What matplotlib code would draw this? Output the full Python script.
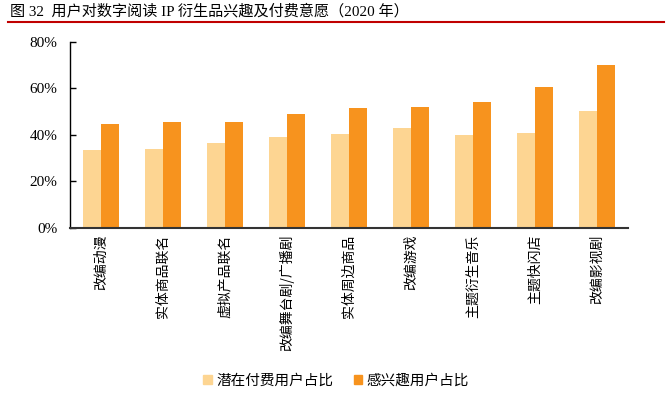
import matplotlib
matplotlib.use("Agg")
import matplotlib.pyplot as plt
import numpy as np
from matplotlib.patches import Patch
from matplotlib.lines import Line2D

categories = ["改编动漫", "实体商品联名", "虚拟产品联名", "改编舞台剧/广播剧", "实体周边商品",
              "改编游戏", "主题衍生音乐", "主题快闪店", "改编影视剧"]
potential_pay = [33.4, 33.7, 36.4, 39.0, 40.3, 42.7, 39.9, 40.9, 50.2]
interested = [44.6, 45.3, 45.5, 48.8, 51.6, 51.9, 54.1, 60.5, 70.1]
series_names = ["潜在付费用户占比", "感兴趣用户占比"]
yticks = [0, 20, 40, 60, 80]
title = "图 32  用户对数字阅读 IP 衍生品兴趣及付费意愿（2020 年）"

c_light = "#FDD592"
c_orange = "#F7931E"
cjk = ["Noto Sans CJK SC", "DejaVu Sans"]
serif_mix = ["Liberation Serif", "Noto Sans CJK SC"]

fig = plt.figure(figsize=(6.72, 3.98), dpi=100)
ax = fig.add_axes([70/672, 1-227.7/398, 558/672, (227.7-41.7)/398])

x = np.arange(len(categories))
w = 0.29
ax.bar(x - w/2, potential_pay, width=w, color=c_light, zorder=2)
ax.bar(x + w/2, interested, width=w, color=c_orange, zorder=2)

ax.set_xlim(-0.5, len(categories) - 0.5)
ax.set_ylim(0, 80)
ax.set_yticks(yticks)
ax.set_yticklabels([f"{v}%" for v in yticks], family="Liberation Serif", fontsize=11)
ax.tick_params(axis="y", direction="in", length=4, width=1, pad=9, colors="black")
ax.set_xticks(x)
ax.set_xticklabels(categories, rotation=90, family=cjk, fontsize=10, va="top", ha="center")
ax.tick_params(axis="x", length=0, pad=5)

for s in ["top", "right"]:
    ax.spines[s].set_visible(False)
ax.spines["left"].set_color("black")
ax.spines["left"].set_linewidth(1.0)
ax.spines["bottom"].set_color("#333333")
ax.spines["bottom"].set_linewidth(1.5)

handles = [Patch(color=c_light), Patch(color=c_orange)]
fig.legend(handles, series_names, loc="center", bbox_to_anchor=(336/672, 1-381/398),
           ncol=2, frameon=False, prop={"family": cjk, "size": 10.5},
           handlelength=0.6, handleheight=0.6, handletextpad=0.3, columnspacing=1.4)

fig.text(10/672, 1-11/398, title, family=serif_mix, fontsize=10.9, va="center", ha="left")
fig.add_artist(Line2D([8/672, 664/672], [1-21.5/398, 1-21.5/398], color="#C00000", lw=1.5,
                      transform=fig.transFigure))

fig.savefig("out.png", dpi=100)
